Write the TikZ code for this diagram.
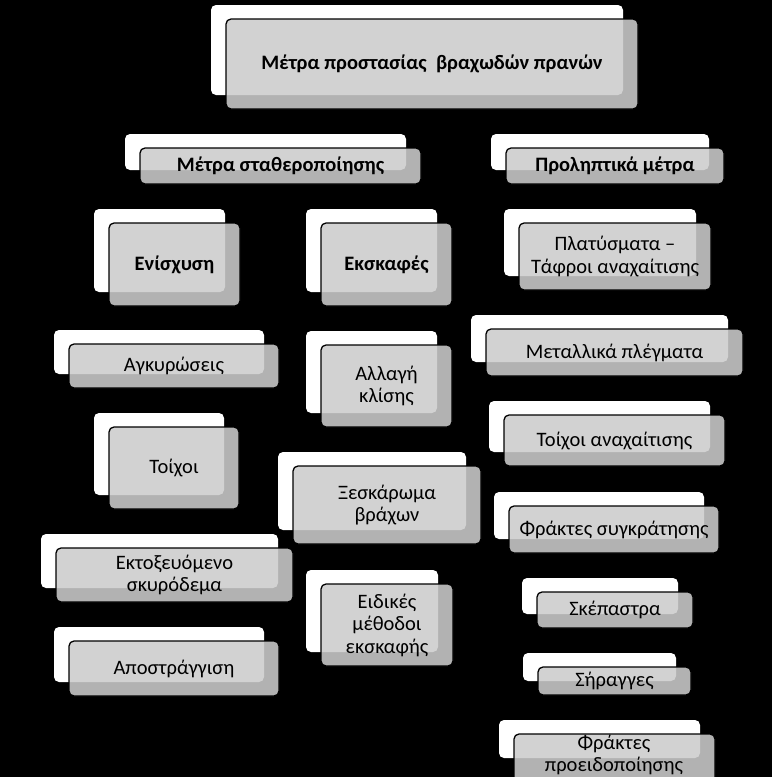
\documentclass[tikz,border=0pt]{standalone}
\usepackage{fontspec}
\setmainfont{Carlito}
\definecolor{boxgray}{RGB}{204,204,204}
\tikzset{
  backbox/.style={fill=white, rounded corners=5pt},
  frontbox/.style={fill=boxgray, fill opacity=0.875, draw=black, line width=1.3pt, rounded corners=5pt},
  lbl/.style={text=black, align=center, inner sep=0pt, font=\fontsize{20.5}{22.5}\selectfont},
  blbl/.style={text=black, align=center, inner sep=0pt, font=\fontsize{20.5}{22.5}\selectfont\bfseries},
}
\newcommand\pairbox[7]{%
  \fill[backbox] (#2,#3) rectangle (#4,#5);
  \filldraw[frontbox] ({#2+15},{#3+14}) rectangle ({#4+15},{#5+14});
  \node[#6] (#1) at ({(#2+#4)/2+15},{(#3+#5)/2+14}) {#7};
}
\begin{document}
\begin{tikzpicture}[x=1pt,y=-1pt]
\useasboundingbox (0,0) rectangle (772,777);
\fill[black] (0,0) rectangle (772,777);
\clip (0,0) rectangle (772,777);
\pairbox{main}{211}{5}{623}{95}{blbl}{Μέτρα προστασίας\ \ βραχωδών πρανών}
\pairbox{stab}{125}{134}{406}{170}{blbl}{Μέτρα σταθεροποίησης}
\pairbox{prev}{491}{134}{709}{170}{blbl}{Προληπτικά μέτρα}
\pairbox{enis}{94}{209}{225}{292}{blbl}{Ενίσχυση}
\pairbox{ekskaf}{306}{209}{437}{292}{blbl}{Εκσκαφές}
\pairbox{agk}{54}{330}{264}{374}{lbl}{Αγκυρώσεις}
\pairbox{allagi}{306}{331}{437}{413}{lbl}{Αλλαγή\\κλίσης}
\pairbox{toixoi}{94}{413}{224}{495}{lbl}{Τοίχοι}
\pairbox{xesk}{278}{452}{466}{530}{lbl}{Ξεσκάρωμα\\βράχων}
\pairbox{ektox}{41}{534}{278}{588}{lbl}{Εκτοξευόμενο\\σκυρόδεμα}
\pairbox{apostr}{54}{627}{264}{682}{lbl}{Αποστράγγιση}
\pairbox{eidikes}{306}{570}{438}{652}{lbl}{Ειδικές\\μέθοδοι\\εκσκαφής}
\pairbox{plat}{504}{209}{696}{276}{lbl}{Πλατύσματα –\\Τάφροι αναχαίτισης}
\pairbox{metal}{471}{315}{728}{362}{lbl}{Μεταλλικά πλέγματα}
\pairbox{toixoian}{489}{401}{710}{452}{lbl}{Τοίχοι αναχαίτισης}
\pairbox{frsyg}{494}{492}{704}{539}{lbl}{Φράκτες συγκράτησης}
\pairbox{skep}{522}{578}{678}{614}{lbl}{Σκέπαστρα}
\pairbox{sirag}{523}{653}{676}{681}{lbl}{Σήραγγες}
\fill[backbox] (499,720) rectangle (700,758);
\filldraw[frontbox] (514,734) rectangle (715,790);
\node[lbl] (frpro) at (614,755) {Φράκτες\\προειδοποίησης};
\end{tikzpicture}
\end{document}
